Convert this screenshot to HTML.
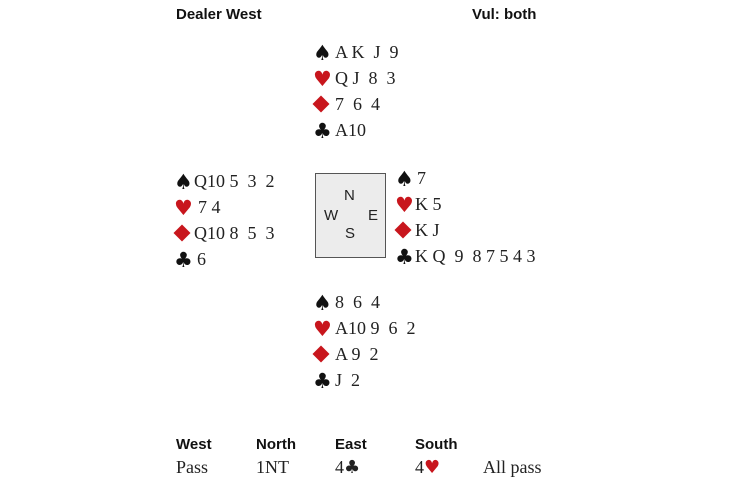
<!DOCTYPE html>
<html><head><meta charset="utf-8"><style>
body{margin:0;width:730px;height:486px;background:#fff;position:relative;overflow:hidden;font-family:"Liberation Serif",serif;color:#222}
.t{position:absolute;font-size:18px;line-height:20px;white-space:pre}
.s{position:absolute;font-family:"DejaVu Sans",sans-serif;font-size:21px;line-height:20px;color:#111}
.r{color:#c8161d}
.d{position:absolute;width:12px;height:12px;background:#c8161d;transform:rotate(45deg)}
.h{position:absolute;font-family:"Liberation Sans",sans-serif;font-weight:bold;font-size:15px;line-height:18px;color:#111}
.box{position:absolute;left:315px;top:173px;width:69px;height:83px;background:#ececec;border:1.5px solid #555}
.c{position:absolute;font-family:"Liberation Sans",sans-serif;font-size:15px;color:#222}
.i{font-family:"DejaVu Sans",sans-serif;font-size:18px}
</style></head><body>
<div class="h" style="left:176px;top:6px">Dealer West</div>
<div class="h" style="left:472px;top:6px">Vul: both</div>

<div class="s" style="left:313px;top:43px">♠</div><div class="t" style="left:335px;top:42px">A K  J  9</div>
<div class="s r" style="left:313px;top:69px">♥</div><div class="t" style="left:335px;top:68px">Q J  8  3</div>
<div class="d" style="left:315px;top:98px"></div><div class="t" style="left:335px;top:94px">7  6  4</div>
<div class="s" style="left:313px;top:121px">♣</div><div class="t" style="left:335px;top:120px">A10</div>

<div class="s" style="left:174px;top:172px">♠</div><div class="t" style="left:194px;top:171px">Q10 5  3  2</div>
<div class="s r" style="left:174px;top:198px">♥</div><div class="t" style="left:198px;top:197px">7 4</div>
<div class="d" style="left:176px;top:227px"></div><div class="t" style="left:194px;top:223px">Q10 8  5  3</div>
<div class="s" style="left:174px;top:250px">♣</div><div class="t" style="left:197px;top:249px">6</div>

<div class="box"></div>
<div class="c" style="left:344px;top:187px">N</div>
<div class="c" style="left:324px;top:207px">W</div>
<div class="c" style="left:368px;top:207px">E</div>
<div class="c" style="left:345px;top:225px">S</div>

<div class="s" style="left:395px;top:169px">♠</div><div class="t" style="left:417px;top:168px">7</div>
<div class="s r" style="left:395px;top:195px">♥</div><div class="t" style="left:415px;top:194px">K 5</div>
<div class="d" style="left:397px;top:224px"></div><div class="t" style="left:415px;top:220px">K J</div>
<div class="s" style="left:395px;top:247px">♣</div><div class="t" style="left:415px;top:246px">K Q  9  8 7 5 4 3</div>

<div class="s" style="left:313px;top:293px">♠</div><div class="t" style="left:335px;top:292px">8  6  4</div>
<div class="s r" style="left:313px;top:319px">♥</div><div class="t" style="left:335px;top:318px">A10 9  6  2</div>
<div class="d" style="left:315px;top:348px"></div><div class="t" style="left:335px;top:344px">A 9  2</div>
<div class="s" style="left:313px;top:371px">♣</div><div class="t" style="left:335px;top:370px">J  2</div>

<div class="h" style="left:176px;top:436px">West</div>
<div class="h" style="left:256px;top:436px">North</div>
<div class="h" style="left:335px;top:436px">East</div>
<div class="h" style="left:415px;top:436px">South</div>
<div class="t" style="left:176px;top:457px">Pass</div>
<div class="t" style="left:256px;top:457px">1NT</div>
<div class="t" style="left:335px;top:457px">4<span class="i">♣</span></div>
<div class="t" style="left:415px;top:457px">4<span class="i r">♥</span></div>
<div class="t" style="left:483px;top:457px">All pass</div>
</body></html>
